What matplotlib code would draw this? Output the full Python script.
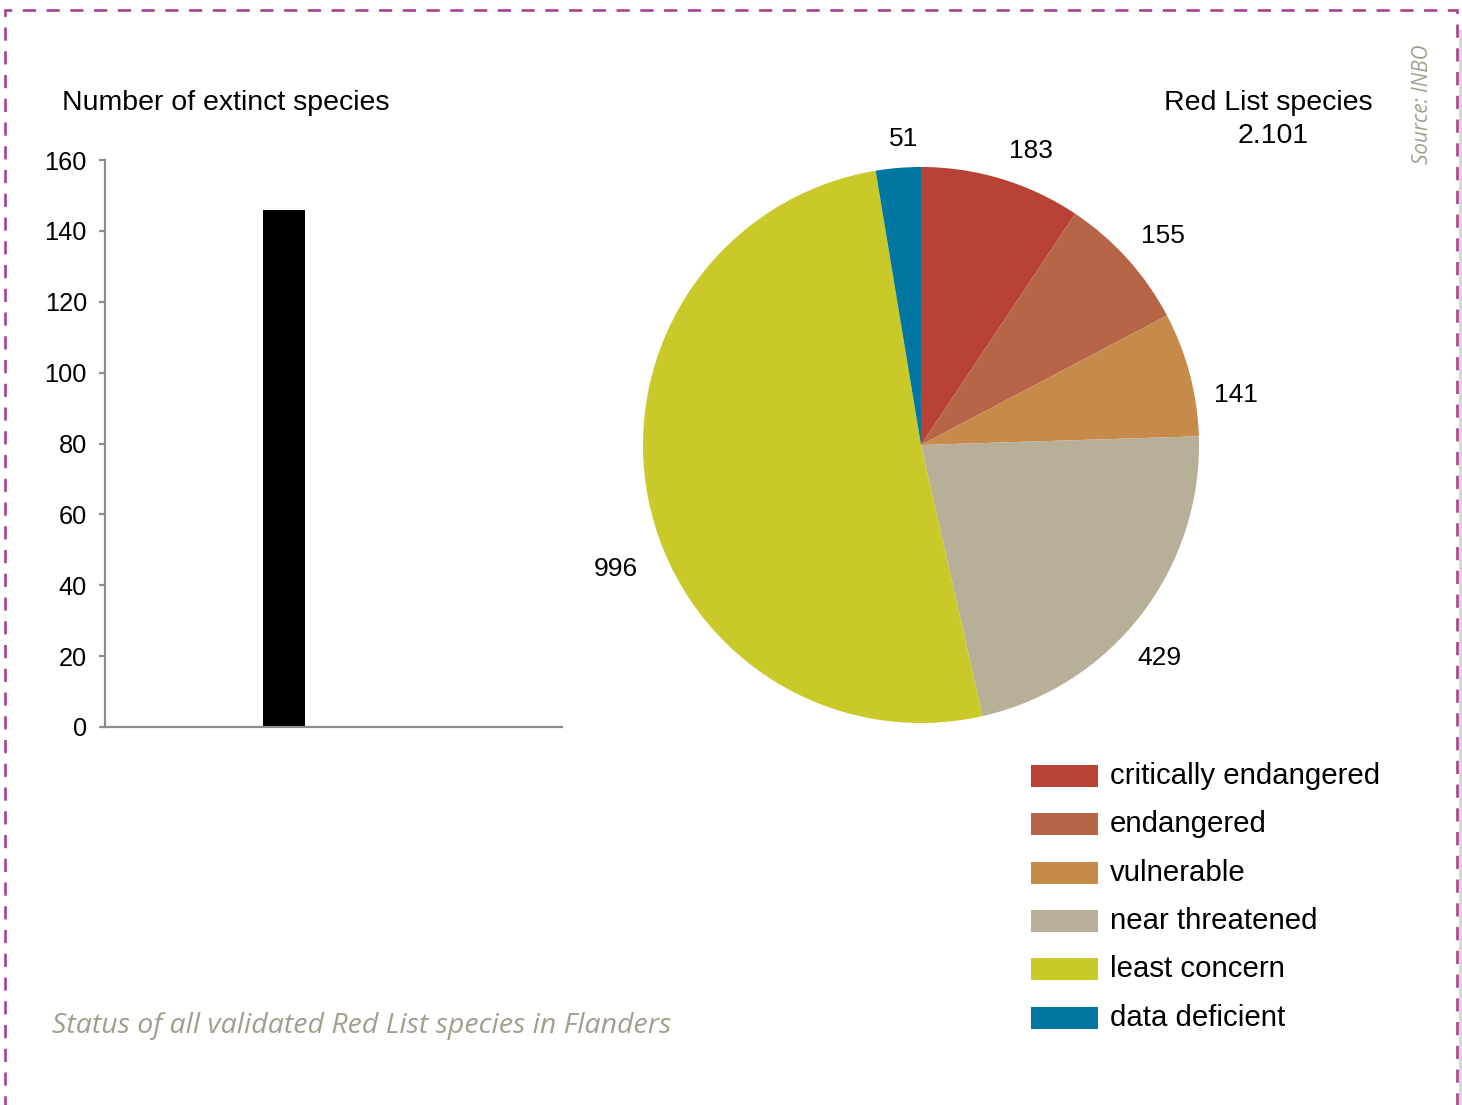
import matplotlib.pyplot as plt
from matplotlib.patches import Rectangle

# extinct species (bar) and red list categories (pie)
extinct = [146]
categories = ["critically endangered", "endangered", "vulnerable",
              "near threatened", "least concern", "data deficient"]
counts = [183, 155, 141, 429, 996, 51]
colors = ["#B84235", "#B66547", "#C68B4A", "#B8AF98", "#C9C92A", "#0076A0"]
y_ticks = [0, 20, 40, 60, 80, 100, 120, 140, 160]

# small nudges for the pie value labels (axes units, radius = 1)
label_nudge = [(0.065, -0.032), (0.025, -0.011), (0.029, -0.112),
               (-0.043, -0.068), (0.022, -0.227), (0.029, -0.036)]

plt.rcParams['font.family'] = ['Liberation Sans', 'DejaVu Sans']

fig = plt.figure(figsize=(14.62, 11.05), dpi=100)

# dashed frame round the whole figure
frame = Rectangle((5 / 1462, -0.05), 1452 / 1462, 1.05 - 10 / 1105,
                  transform=fig.transFigure, fill=False, edgecolor="#A8418F",
                  linewidth=1.9, linestyle=(0, (5, 4)))
fig.patches.append(frame)
fig.patches.append(Rectangle((1459 / 1462, 0), 3 / 1462, 1 - 30 / 1105,
                             transform=fig.transFigure, facecolor="#D8D8D8",
                             edgecolor="none"))

# bar chart: number of extinct species
ax = fig.add_axes([105 / 1462, 1 - 727 / 1105, 457 / 1462, 567 / 1105])
ax.bar([0], extinct, width=0.092, color="black")
ax.set_xlim(-0.392, 0.608)
ax.set_ylim(0, 160)
ax.set_yticks(y_ticks)
ax.set_yticklabels([str(v) for v in y_ticks], fontsize=18.3)
ax.set_xticks([])
for s in ["top", "right"]:
    ax.spines[s].set_visible(False)
for s in ["left", "bottom"]:
    ax.spines[s].set_color("#8C8C8C")
    ax.spines[s].set_linewidth(1.6)
ax.tick_params(axis="y", colors="#8C8C8C", labelcolor="black", length=4,
               width=1.6, pad=9)
fig.text(62 / 1462, 1 - 103 / 1105, "Number of extinct species", fontsize=20.5,
         va="center", ha="left")

# pie chart: red list species
pax = fig.add_axes([643 / 1462, 1 - 723 / 1105, 556 / 1462, 556 / 1105])
wedges, texts = pax.pie(counts, colors=colors, startangle=90, counterclock=False,
                        labels=[str(c) for c in counts], labeldistance=1.14,
                        radius=1, textprops={"fontsize": 19, "ha": "center",
                                             "va": "center"})
for t, (dx, dy) in zip(texts, label_nudge):
    x, y = t.get_position()
    t.set_position((x + dx, y + dy))
pax.set_xlim(-1, 1)
pax.set_ylim(-1, 1)
pax.set_aspect("equal")
pax.axis("off")

fig.text(1268 / 1462, 1 - 103 / 1105, "Red List species", fontsize=20.5,
         ha="center", va="center")
fig.text(1273 / 1462, 1 - 136 / 1105, "2.101", fontsize=20.5,
         ha="center", va="center")

# legend
for i, (name, col) in enumerate(zip(categories, colors)):
    y = 1 - (776 + i * 48.3) / 1105
    fig.patches.append(Rectangle((1031 / 1462, y - 11 / 1105), 67 / 1462, 22 / 1105,
                                 transform=fig.transFigure, facecolor=col,
                                 edgecolor="none"))
    fig.text(1110 / 1462, y, name, fontsize=21.2, va="center", ha="left")

fig.text(52 / 1462, 1 - 1026 / 1105, "Status of all validated Red List species in Flanders",
         fontsize=20.5, family="Open Sans", style="italic", color="#A39E8C",
         va="center", ha="left")
fig.text(1422 / 1462, 1 - 104 / 1105, "Source: INBO", fontsize=14.9,
         family="Open Sans", style="italic", color="#A39E8C",
         rotation=90, va="center", ha="center")

fig.savefig("out.png", dpi=100)
